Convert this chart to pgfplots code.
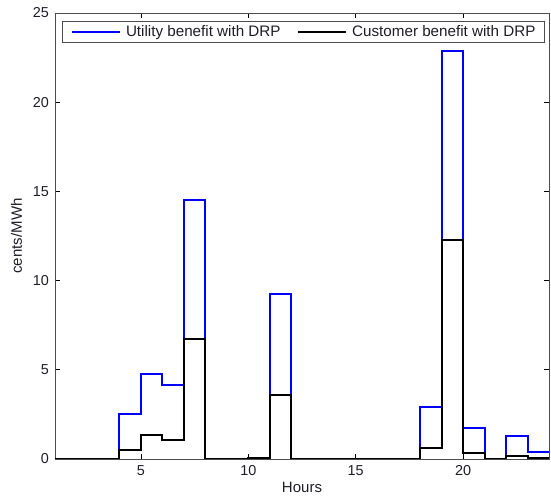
\documentclass[border=0pt]{standalone}
\usepackage{pgfplots}
\pgfplotsset{compat=1.18}
\usepackage{fontspec}
\setmainfont{Liberation Sans}
\definecolor{txt}{RGB}{30,30,40}
\begin{document}
\begin{tikzpicture}
\begin{axis}[
  name=ax,
  scale only axis,
  width=494pt, height=446pt,
  xmin=1, xmax=24, ymin=0, ymax=25,
  xtick={5,10,15,20}, ytick={0,5,10,15,20,25},
  tick align=inside,
  xtick pos=both, ytick pos=both,
  major tick length=5pt,
  tick style={black, line width=0.6pt},
  axis line style={black!70, line width=0.8pt},
  ticklabel style={font=\fontsize{14.4}{16}\selectfont, text=txt, inner sep=0pt},
  xticklabel style={anchor=base, yshift=-17pt},
  yticklabel style={anchor=east, xshift=-6pt},
  /pgf/number format/assume math mode=true,
  xlabel={Hours}, ylabel={cents/MWh},
  every axis x label/.style={at={(axis description cs:0.5,-0.0762)}, anchor=base,
    font=\fontsize{15}{17}\selectfont, text=txt, inner sep=0pt},
  every axis y label/.style={at={(axis description cs:-0.0669,0.5)}, rotate=90, anchor=base,
    font=\fontsize{15}{17}\selectfont, text=txt, inner sep=0pt},
  legend columns=2,
  legend style={at={(axis description cs:0.0142,0.9827)}, anchor=north west,
    font=\fontsize{15.2}{17}\selectfont, text=txt,
    draw=black!70, line width=0.8pt, inner xsep=9pt, inner ysep=4.5pt,
    nodes={inner sep=0pt},
    /tikz/every odd column/.style={column sep=5pt},
    /tikz/every even column/.style={column sep=17pt}},
  legend image code/.code={\draw[#1, line width=1.6pt] (0pt,0pt) -- (48pt,0pt);},
]
\addplot[const plot, blue, line width=2pt] coordinates {
(1,0) (2,0) (3,0) (4,2.55) (5,4.75) (6,4.12) (7,14.5) (8,0) (9,0) (10,0.05)
(11,9.25) (12,0) (13,0) (14,0) (15,0) (16,0) (17,0) (18,2.92) (19,22.85)
(20,1.75) (21,0) (22,1.28) (23,0.37) (24,0.37)};
\addlegendentry{Utility benefit with DRP}
\addplot[const plot, black, line width=2pt] coordinates {
(1,0) (2,0) (3,0) (4,0.53) (5,1.35) (6,1.05) (7,6.7) (8,0) (9,0) (10,0.08)
(11,3.6) (12,0) (13,0) (14,0) (15,0) (16,0) (17,0) (18,0.6) (19,12.3)
(20,0.32) (21,0) (22,0.17) (23,0.06) (24,0.06)};
\addlegendentry{Customer benefit with DRP}
\end{axis}
\pgfresetboundingbox
\path ([shift={(-55pt,-38pt)}]ax.south west) rectangle ([shift={(2pt,13pt)}]ax.north east);
\end{tikzpicture}
\end{document}
